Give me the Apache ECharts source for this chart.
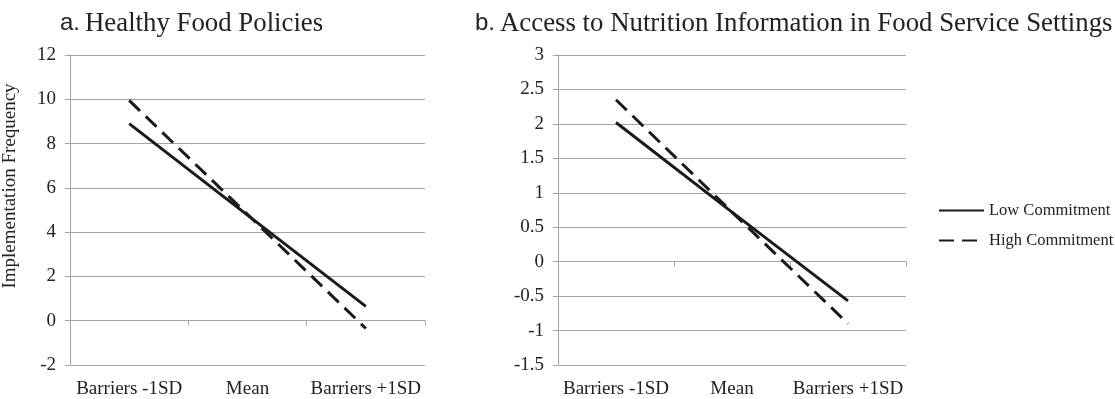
<!DOCTYPE html>
<html>
<head>
<meta charset="utf-8">
<script src="https://cdn.jsdelivr.net/npm/echarts@6/dist/echarts.min.js"></script>
<style>html,body{margin:0;padding:0;background:#fff;}#c{width:1115px;height:399px;}</style>
</head>
<body>
<div id="c"></div>
<script>
const categories = ['Barriers -1SD', 'Mean', 'Barriers +1SD'];
const seriesNames = ['Low Commitment', 'High Commitment'];
// Panel a: Healthy Food Policies
const aLow = [8.9, 4.77, 0.65];
const aHigh = [9.95, 4.8, -0.35];
// Panel b: Access to Nutrition Information in Food Service Settings
const bLow = [2.02, 0.72, -0.57];
const bHigh = [2.35, 0.72, -0.9];
const aTicks = {min: -2, max: 12, interval: 2};
const bTicks = {min: -1.5, max: 3, interval: 0.5};

const serif = '"Liberation Serif", "Times New Roman", serif';
const sans = '"Liberation Sans", Arial, sans-serif';
const gridColor = '#a6a6a6';
const inkColor = '#1a1a1a';
const textColor = '#222';

const chart = echarts.init(document.getElementById('c'));

function labelAxis(gi) {
  return {
    type: 'category', gridIndex: gi, data: categories, position: 'bottom',
    axisLine: {show: false, onZero: false}, axisTick: {show: false},
    axisLabel: {interval: 0, fontFamily: serif, fontSize: 19, color: textColor, margin: 15}
  };
}
function zeroAxis(gi) {
  return {
    type: 'category', gridIndex: gi, data: categories, position: 'bottom',
    axisLine: {show: true, onZero: true, lineStyle: {color: gridColor, width: 1}},
    axisTick: {show: true, interval: 0, length: 5, lineStyle: {color: gridColor}},
    axisLabel: {show: false}
  };
}
function valAxis(gi, t, name) {
  return Object.assign({
    type: 'value', gridIndex: gi, name: name || '',
    nameLocation: 'middle', nameRotate: 90, nameGap: 50,
    nameTextStyle: {fontFamily: serif, fontSize: 19, color: textColor, padding: [0, 0, 0, 48]},
    axisLine: {show: true, lineStyle: {color: gridColor}},
    axisTick: {show: true, length: 5, lineStyle: {color: gridColor}},
    axisLabel: {fontFamily: serif, fontSize: 19, color: textColor, margin: 14},
    splitLine: {show: true, lineStyle: {color: gridColor, width: 1}}
  }, t);
}
function lineSeries(name, data, xi, yi, dashed) {
  return {
    type: 'line', name: name, data: data, xAxisIndex: xi, yAxisIndex: yi,
    symbol: 'circle', showSymbol: false, silent: true, animation: false,
    lineStyle: {color: inkColor, width: 3, type: dashed ? [15, 8] : 'solid', cap: 'butt'},
    itemStyle: {color: inkColor}
  };
}
const titleRich = {
  l: {fontFamily: sans, fontSize: 24, fontWeight: 'normal', color: textColor},
  t: {fontFamily: serif, fontSize: 26.8, fontWeight: 'normal', color: textColor}
};

chart.setOption({
  animation: false,
  title: [
    {left: 55, top: 5, text: '{l|a.} {t|Healthy Food Policies}',
     textStyle: {fontWeight: 'normal', rich: titleRich}},
    {left: 470, top: 5, text: '{l|b.} {t|Access to Nutrition Information in Food Service Settings}',
     textStyle: {fontWeight: 'normal', rich: titleRich}}
  ],
  legend: {
    orient: 'vertical', left: 933, top: 197, itemWidth: 45, itemHeight: 14, itemGap: 13,
    data: seriesNames,
    itemStyle: {opacity: 0},
    textStyle: {fontFamily: serif, fontSize: 16.5, color: textColor}
  },
  grid: [
    {left: 67, right: 690, top: 55, bottom: 32},
    {left: 558, right: 209, top: 55, bottom: 32}
  ],
  xAxis: [labelAxis(0), zeroAxis(0), labelAxis(1), zeroAxis(1)],
  yAxis: [valAxis(0, aTicks, 'Implementation Frequency'), valAxis(1, bTicks)],
  series: [
    lineSeries(seriesNames[0], aLow, 0, 0, false),
    lineSeries(seriesNames[1], aHigh, 0, 0, true),
    lineSeries(seriesNames[0], bLow, 2, 1, false),
    lineSeries(seriesNames[1], bHigh, 2, 1, true)
  ]
});
</script>
</body>
</html>
